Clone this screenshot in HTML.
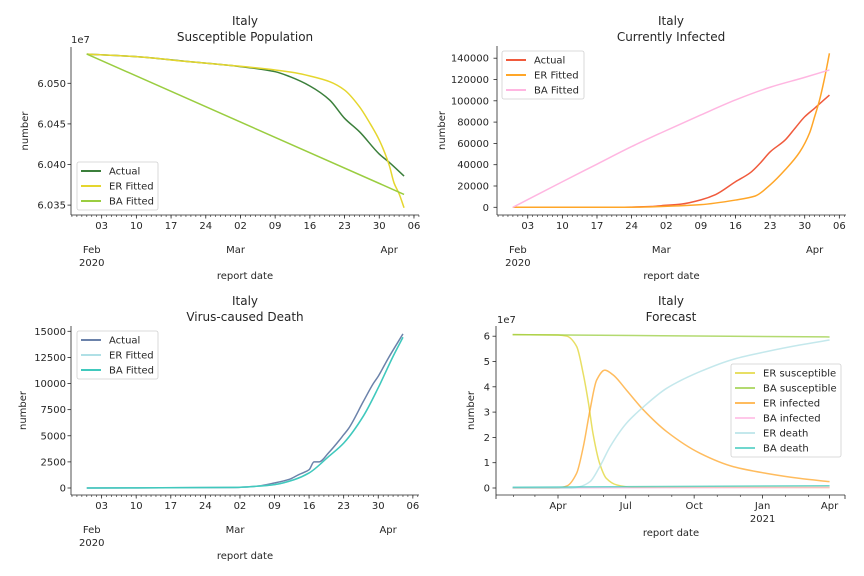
<!DOCTYPE html>
<html><head><meta charset="utf-8"><style>
body{margin:0;background:#fff}
svg{display:block;font-family:"DejaVu Sans","Liberation Sans",sans-serif}
</style></head><body>
<svg id="fig" width="864" height="576" viewBox="0 0 864 576" xmlns="http://www.w3.org/2000/svg"></svg>
<script>
// ---- data (day index: 0 = 2020-01-31) ----
const tlDays=[0,10,20,30,38,41,45,49,52,55,59,61,64];
const tlActual=[6.0536,6.05328,6.0527,6.05213,6.05143,6.05081,6.04967,6.04794,6.04569,6.04404,6.04129,6.04027,6.03858];
const tlErDays=[0,10,20,30,38,42,45,49,52,55,57,59,61,62,63,64];
const tlEr=[6.0536,6.05328,6.0527,6.05215,6.05164,6.0513,6.0509,6.0502,6.04917,6.04712,6.0452,6.04301,6.03993,6.0377,6.0364,6.03467];
const tlBaDays=[0,64];
const tlBa=[6.0536,6.03632];

const trDays=[0,10,20,24,28,30,34,38,41,45,48,50,52,55,57,59,61,64];
const trActual=[0,0,0,200,700,1500,3000,7000,12000,24000,32500,41500,52000,63000,74000,85000,93000,105400];
const trErDays=[0,20,24,30,38,45,49,52,55,58,60,61,62,63,64];
const trEr=[0,0,100,800,2500,6800,10600,21000,35000,52000,70000,85000,100700,121000,144600];
const trBaDays=[0,10,17,24,30,38,45,52,59,64];
const trBa=[0,24000,40500,57000,70000,86700,100800,112700,122000,129000];

const blDays=[0,30,34,38,41,43,44,45,46,47,49,51,52,53,56,58,59,61,64];
const blActual=[0,50,150,480,830,1300,1500,1750,2500,2500,3400,4500,5100,5700,8300,10000,10700,12400,14750];
const blFitDays=[0,30,34,38,42,45,49,52,56,59,62,64];
const blEr=[0,60,150,320,800,1440,3030,4300,6900,9600,12600,14430];
const blBa=[0,60,150,320,800,1440,3030,4300,6900,9600,12600,14430];

const frErSDays=[0,61,73,86,95,102,108,117,126,140,160,426];
const frErS=[6.06,6.05,6.0,5.6,4.5,3.35,2.16,0.97,0.38,0.12,0.03,0.02];
const frBaSDays=[0,200,426];
const frBaS=[6.06,6.02,5.97];
const frErIDays=[0,61,73,86,95,104,113,124,135,153,176,207,252,297,341,386,426];
const frErI=[0,0,0.08,0.58,1.63,3.08,4.27,4.66,4.47,3.87,3.08,2.23,1.37,0.84,0.58,0.38,0.25];
const frBaIDays=[0,426];
const frBaI=[0.0,0.02];
const frErDDays=[0,80,90,104,117,131,153,176,207,252,297,341,386,426];
const frErD=[0,0,0.05,0.25,0.84,1.63,2.56,3.21,3.94,4.6,5.09,5.39,5.65,5.85];
const frBaDDays=[0,426];
const frBaD=[0.03,0.09];

const dayTickDays=[3,10,17,24,31,38,45,52,59,66];
const dayTickLabels=["03","10","17","24","02","09","16","23","30","06"];
const monthTickDays=[1,30,61];
const monthTickLabels=["Feb","Mar","Apr"];

const NS="http://www.w3.org/2000/svg";
const svg=document.getElementById('fig');
function el(tag,attrs,parent){const e=document.createElementNS(NS,tag);for(const k in attrs)e.setAttribute(k,attrs[k]);(parent||svg).appendChild(e);return e;}
function txt(s,x,y,attrs,parent){const t=el('text',Object.assign({x:x,y:y,'font-size':10,fill:'#262626'},attrs||{}),parent);t.textContent=s;return t;}

// monotone cubic (Fritsch-Carlson) path through screen points
function smoothPath(xs,ys){
  const n=xs.length;
  if(n<3){let d='';for(let i=0;i<n;i++)d+=(i?'L':'M')+xs[i].toFixed(2)+','+ys[i].toFixed(2);return d;}
  const dx=[],m=[],t=new Array(n);
  for(let i=0;i<n-1;i++){dx.push(xs[i+1]-xs[i]);m.push((ys[i+1]-ys[i])/dx[i]);}
  t[0]=m[0];t[n-1]=m[n-2];
  for(let i=1;i<n-1;i++){
    if(m[i-1]*m[i]<=0)t[i]=0;
    else{const w1=2*dx[i]+dx[i-1],w2=dx[i]+2*dx[i-1];t[i]=(w1+w2)/(w1/m[i-1]+w2/m[i]);}
  }
  let d='M'+xs[0].toFixed(2)+','+ys[0].toFixed(2);
  for(let i=0;i<n-1;i++){
    const h=dx[i]/3;
    d+='C'+(xs[i]+h).toFixed(2)+','+(ys[i]+t[i]*h).toFixed(2)+' '+(xs[i+1]-h).toFixed(2)+','+(ys[i+1]-t[i+1]*h).toFixed(2)+' '+xs[i+1].toFixed(2)+','+ys[i+1].toFixed(2);
  }
  return d;
}
function drawLine(g,days,vals,xf,yf,color,w,op){
  const d=smoothPath(days.map(xf),vals.map(yf));
  return el('path',{d:d,fill:'none',stroke:color,'stroke-width':w||1.5,'stroke-opacity':op||1,'stroke-linejoin':'round'},g);
}

function legend(g,x,y,w,entries,op){
  const h=entries.length*15+3;
  const box=el('rect',{x:x,y:y,width:w,height:h,rx:2,fill:'#fff','fill-opacity':0.8,stroke:'#d0d0d0','stroke-width':0.8},g);
  
  
  entries.forEach((e,i)=>{
    const cy=y+9+i*15;
    const ln=el('line',{x1:x+4,x2:x+24,y1:cy,y2:cy,stroke:e[1],'stroke-width':2,'stroke-opacity':op||1},g);
    
    
    const t=txt(e[0],x+32,cy+3.5,{},g);
    
    
  });
}

function dateAxis(g,x0,k,left,right,bottom,labelY){
  el('line',{x1:left,x2:right,y1:bottom,y2:bottom,stroke:'#262626','stroke-width':0.8},g);
  for(let d=-3;d<=67;d++){const x=x0+k*d;if(x<left||x>right)continue;
    el('line',{x1:x,x2:x,y1:bottom,y2:bottom+2,stroke:'#262626','stroke-width':0.6},g);}
  dayTickDays.forEach((d,i)=>{const x=x0+k*d;
    el('line',{x1:x,x2:x,y1:bottom,y2:bottom+3.5,stroke:'#262626','stroke-width':0.8},g);
    const t=txt(dayTickLabels[i],x,bottom+14,{'text-anchor':'middle'},g);
    
    });
  monthTickDays.forEach((d,i)=>{const x=x0+k*d;
    const t=txt(monthTickLabels[i],x,bottom+38,{'text-anchor':'middle'},g);
    
    });
  const yr=txt('2020',x0+k*1,bottom+51,{'text-anchor':'middle'},g);
  
  
  const xl=txt('report date',(left+right)/2,labelY,{'text-anchor':'middle'},g);
  
  
}

function yAxis(g,left,top,bottom,ticks,labels,yf,labelRight,ylabX){
  el('line',{x1:left,x2:left,y1:top,y2:bottom,stroke:'#262626','stroke-width':0.8},g);
  ticks.forEach((v,i)=>{const y=yf(v);
    el('line',{x1:left-3.5,x2:left,y1:y,y2:y,stroke:'#262626','stroke-width':0.8},g);
    const t=txt(labels[i],labelRight,y+3.5,{'text-anchor':'end'},g);
    
    });
  const yl=txt('number',ylabX,(top+bottom)/2,{'text-anchor':'middle',transform:'rotate(-90 '+ylabX+' '+((top+bottom)/2)+')'},g);
  
  
}

function title(g,cx,y1,l2){
  const a=txt('Italy',cx,y1,{'text-anchor':'middle','font-size':12},g);
  
  
  const b=txt(l2,cx,y1+16,{'text-anchor':'middle','font-size':12},g);
  
  
}

// ---- Panel 1: Susceptible ----
(function(){
  const g=el('g',{});
  
  
  const x0=86.8,k=4.957;
  const xf=d=>x0+k*d, yf=v=>83.3-(v-6.050)*8120;
  title(g,245,25,'Susceptible Population');
  yAxis(g,71,47,215,[6.035,6.040,6.045,6.050],['6.035','6.040','6.045','6.050'],yf,66,28);
  const e=txt('1e7',71,43,{},g);
  
  
  dateAxis(g,x0,k,71,419,215,279);
  drawLine(g,tlDays,tlActual,xf,yf,'#3b7f3b');
  drawLine(g,tlErDays,tlEr,xf,yf,'#e5d62e');
  drawLine(g,tlBaDays,tlBa,xf,yf,'#9acd40');
  legend(g,77,162,81,[['Actual','#3b7f3b'],['ER Fitted','#e5d62e'],['BA Fitted','#9acd40']]);
})();

// ---- Panel 2: Infected ----
(function(){
  const g=el('g',{});
  
  
  const x0=512.9,k=4.946;
  const xf=d=>x0+k*d, yf=v=>207.3-v*21.3/20000;
  title(g,671,25,'Currently Infected');
  const tv=[0,20000,40000,60000,80000,100000,120000,140000];
  yAxis(g,497,46,215,tv,tv.map(String),yf,489,445);
  dateAxis(g,x0,k,497,846,215,279);
  drawLine(g,trDays,trActual,xf,yf,'#f05a3c');
  drawLine(g,trErDays,trEr,xf,yf,'#ffa628');
  drawLine(g,trBaDays,trBa,xf,yf,'#ffb6e1');
  legend(g,502,51,82,[['Actual','#f05a3c'],['ER Fitted','#ffa628'],['BA Fitted','#ffb6e1']]);
})();

// ---- Panel 3: Death ----
(function(){
  const g=el('g',{});
  
  
  const x0=86.8,k=4.94;
  const xf=d=>x0+k*d, yf=v=>488-v*156.7/15000;
  title(g,245,305,'Virus-caused Death');
  const tv=[0,2500,5000,7500,10000,12500,15000];
  yAxis(g,71,326,495,tv,tv.map(String),yf,66,26);
  dateAxis(g,x0,k,71,419,495,559);
  drawLine(g,blDays,blActual,xf,yf,'#6b82aa');
  drawLine(g,blFitDays,blEr,xf,yf,'#b0e0e6');
  drawLine(g,blFitDays,blBa,xf,yf,'#40c9bd');
  legend(g,77,331,81,[['Actual','#6b82aa'],['ER Fitted','#b0e0e6'],['BA Fitted','#40c9bd']]);
})();

// ---- Panel 4: Forecast ----
const fcTickDays=[61,152,244,336,426];
const fcTickLabels=['Apr','Jul','Oct','Jan','Apr'];
const fcMinorDays=[1,30,91,122,183,214,275,306,367,398];
(function(){
  const g=el('g',{});
  
  
  const xf=d=>558+(d-61)*0.744, yf=v=>488-v*25.3;
  title(g,671,305,'Forecast');
  const tv=[0,1,2,3,4,5,6];
  yAxis(g,496,326,495,tv,tv.map(String),yf,490,474);
  const e=txt('1e7',497,323,{},g);
  
  
  el('line',{x1:496,x2:845,y1:495,y2:495,stroke:'#262626','stroke-width':0.8},g);
  [496,845].forEach(x=>el('line',{x1:x,x2:x,y1:495,y2:499,stroke:'#262626','stroke-width':0.8},g));
  fcMinorDays.forEach(d=>{const x=xf(d);el('line',{x1:x,x2:x,y1:495,y2:497,stroke:'#262626','stroke-width':0.6},g);});
  fcTickDays.forEach((d,i)=>{const x=xf(d);
    el('line',{x1:x,x2:x,y1:495,y2:498.5,stroke:'#262626','stroke-width':0.8},g);
    const t=txt(fcTickLabels[i],x,509,{'text-anchor':'middle'},g);
    
    });
  const yr=txt('2021',xf(336),522,{'text-anchor':'middle'},g);
  
  
  const xl=txt('report date',671,536,{'text-anchor':'middle'},g);
  
  
  drawLine(g,frErSDays,frErS,xf,yf,'#e0d430',1.5,0.75);
  drawLine(g,frBaSDays,frBaS,xf,yf,'#9acd40',1.5,0.75);
  drawLine(g,frErIDays,frErI,xf,yf,'#ffa628',1.5,0.75);
  drawLine(g,frBaIDays,frBaI,xf,yf,'#ffb6e1',1.5,0.75);
  drawLine(g,frErDDays,frErD,xf,yf,'#b0e0e6',1.5,0.75);
  drawLine(g,frBaDDays,frBaD,xf,yf,'#40c9bd',1.5,0.75);
  legend(g,731,364,110,[['ER susceptible','#e0d430'],['BA susceptible','#9acd40'],['ER infected','#ffa628'],['BA infected','#ffb6e1'],['ER death','#b0e0e6'],['BA death','#40c9bd']],0.75);
})();
</script>
</body></html>
